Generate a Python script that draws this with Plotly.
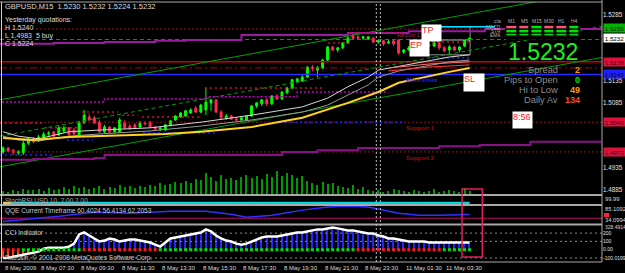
import plotly.graph_objects as go

FONT = "Liberation Sans"

# ---------------- data ----------------
symbol_line = "GBPUSD,M15  1.5230 1.5232 1.5224 1.5232"
yesterday_lines = ["Yesterday quotations:", "H 1.5240", "L 1.4983  5 buy", "C 1.5224"]

bars = list(range(93))
opens = [1.4972, 1.4981, 1.4976, 1.4970, 1.4970, 1.4992, 1.5002, 1.4997, 1.5006, 1.5013,
         1.5018, 1.5011, 1.5020, 1.5027, 1.5022, 1.5011, 1.5038, 1.5052, 1.5050, 1.5040,
         1.5018, 1.5029, 1.5018, 1.5018, 1.5040, 1.5031, 1.5034, 1.5029, 1.5038, 1.5040,
         1.5029, 1.5024, 1.5022, 1.5034, 1.5045, 1.5052, 1.5054, 1.5061, 1.5072, 1.5063,
         1.5068, 1.5084, 1.5091, 1.5063, 1.5050, 1.5054, 1.5047, 1.5045, 1.5045, 1.5054,
         1.5077, 1.5082, 1.5091, 1.5082, 1.5100, 1.5093, 1.5107, 1.5118, 1.5132, 1.5134,
         1.5143, 1.5166, 1.5159, 1.5164, 1.5182, 1.5212, 1.5205, 1.5210, 1.5221, 1.5239,
         1.5235, 1.5232, 1.5230, 1.5232, 1.5223, 1.5226, 1.5221, 1.5226, 1.5228, 1.5200,
         1.5205, 1.5210, 1.5216, 1.5214, 1.5216, 1.5214, 1.5221, 1.5210, 1.5205, 1.5212,
         1.5205, 1.5214, 1.5230]
highs = [1.4985, 1.4983, 1.4979, 1.4976, 1.4997, 1.5004, 1.5006, 1.5011, 1.5018, 1.5020,
         1.5020, 1.5031, 1.5031, 1.5029, 1.5027, 1.5043, 1.5068, 1.5059, 1.5054, 1.5045,
         1.5034, 1.5031, 1.5029, 1.5050, 1.5045, 1.5036, 1.5038, 1.5043, 1.5043, 1.5043,
         1.5031, 1.5029, 1.5036, 1.5045, 1.5056, 1.5063, 1.5068, 1.5072, 1.5077, 1.5082,
         1.5118, 1.5093, 1.5093, 1.5068, 1.5059, 1.5056, 1.5052, 1.5052, 1.5056, 1.5079,
         1.5086, 1.5093, 1.5095, 1.5102, 1.5104, 1.5111, 1.5121, 1.5139, 1.5141, 1.5148,
         1.5168, 1.5171, 1.5168, 1.5185, 1.5214, 1.5214, 1.5212, 1.5223, 1.5237, 1.5244,
         1.5239, 1.5237, 1.5237, 1.5235, 1.5228, 1.5228, 1.5228, 1.5228, 1.5230, 1.5207,
         1.5214, 1.5219, 1.5219, 1.5221, 1.5221, 1.5226, 1.5223, 1.5214, 1.5216, 1.5214,
         1.5214, 1.5230, 1.5232]
lows = [1.4967, 1.4972, 1.4965, 1.4965, 1.4965, 1.4988, 1.4992, 1.4995, 1.5004, 1.5008,
        1.5006, 1.5008, 1.5015, 1.5008, 1.5011, 1.5008, 1.5036, 1.5043, 1.5036, 1.5015,
        1.5015, 1.5015, 1.5015, 1.5015, 1.5024, 1.5022, 1.5024, 1.5027, 1.5034, 1.5027,
        1.5022, 1.5020, 1.5020, 1.5031, 1.5043, 1.5050, 1.5052, 1.5059, 1.5061, 1.5061,
        1.5056, 1.5066, 1.5061, 1.5045, 1.5045, 1.5045, 1.5043, 1.5043, 1.5043, 1.5052,
        1.5072, 1.5077, 1.5077, 1.5079, 1.5091, 1.5091, 1.5104, 1.5116, 1.5130, 1.5132,
        1.5141, 1.5157, 1.5143, 1.5162, 1.5180, 1.5203, 1.5200, 1.5207, 1.5219, 1.5230,
        1.5228, 1.5228, 1.5228, 1.5221, 1.5219, 1.5214, 1.5219, 1.5214, 1.5194, 1.5196,
        1.5203, 1.5207, 1.5210, 1.5212, 1.5212, 1.5212, 1.5205, 1.5200, 1.5194, 1.5203,
        1.5200, 1.5212, 1.5224]
closes = [1.4981, 1.4974, 1.4970, 1.4972, 1.4992, 1.5002, 1.4995, 1.5006, 1.5013, 1.5015,
          1.5008, 1.5027, 1.5027, 1.5011, 1.5013, 1.5038, 1.5056, 1.5045, 1.5038, 1.5018,
          1.5029, 1.5018, 1.5027, 1.5045, 1.5027, 1.5027, 1.5027, 1.5038, 1.5036, 1.5029,
          1.5024, 1.5027, 1.5034, 1.5043, 1.5054, 1.5061, 1.5066, 1.5068, 1.5063, 1.5079,
          1.5086, 1.5091, 1.5063, 1.5050, 1.5054, 1.5047, 1.5045, 1.5050, 1.5054, 1.5077,
          1.5084, 1.5091, 1.5082, 1.5100, 1.5093, 1.5109, 1.5118, 1.5137, 1.5139, 1.5143,
          1.5166, 1.5162, 1.5166, 1.5182, 1.5212, 1.5205, 1.5210, 1.5221, 1.5232, 1.5232,
          1.5232, 1.5235, 1.5235, 1.5223, 1.5226, 1.5219, 1.5223, 1.5219, 1.5198, 1.5205,
          1.5210, 1.5216, 1.5214, 1.5219, 1.5214, 1.5221, 1.5210, 1.5203, 1.5212, 1.5205,
          1.5212, 1.5228, 1.5232]
volumes = [160, 120, 200, 160, 240, 200, 200, 240, 160, 280, 200, 240, 320, 240, 360, 280,
           320, 240, 280, 360, 240, 320, 280, 400, 320, 360, 280, 360, 320, 400, 360, 480,
           400, 440, 520, 480, 560, 480, 640, 600, 880, 720, 560, 800, 640, 680, 600, 720,
           800, 680, 760, 640, 840, 720, 960, 760, 880, 800, 680, 760, 560, 480, 400, 520,
           440, 480, 360, 320, 280, 400, 240, 320, 200, 160, 200, 120, 160, 240, 200, 160,
           120, 200, 160, 120, 160, 240, 120, 160, 200, 160, 120, 280, 160]

time_label_bars = [0, 7, 15, 23, 31, 39, 47, 55, 63, 71, 79, 87]
time_labels = ["8 May 2009", "8 May 07:30", "8 May 09:30", "8 May 11:30", "8 May 13:30",
               "8 May 15:30", "8 May 17:30", "8 May 19:30", "8 May 21:30", "8 May 23:30",
               "11 May 01:30", "11 May 03:30"]
# axis prices that stay visible (the others are covered by price tags)
price_ticks = [1.5285, 1.5135, 1.5085, 1.4935, 1.4885]

# moving averages / envelopes (read at sample bars)
env_bars = [0, 3, 7, 13, 19, 29, 39, 49, 59, 64, 68, 72, 74, 78, 88, 92]
env_upper = [1.5018, 1.5008, 1.5002, 1.5018, 1.5022, 1.5027, 1.5040, 1.5056, 1.5075, 1.5095,
             1.5121, 1.5143, 1.5159, 1.5168, 1.5189, 1.5194]
env_lower = [1.5008, 1.4999, 1.4997, 1.5008, 1.5013, 1.5020, 1.5031, 1.5045, 1.5063, 1.5079,
             1.5102, 1.5125, 1.5143, 1.5157, 1.5178, 1.5182]
yellow_bars = [0, 6, 13, 19, 26, 32, 39, 49, 59, 64, 68, 74, 78, 88, 92]
yellow_ma = [1.5004, 1.4999, 1.5006, 1.5008, 1.5011, 1.5013, 1.5018, 1.5029, 1.5050, 1.5068,
             1.5084, 1.5109, 1.5130, 1.5155, 1.5164]
pink_bars = [76, 84, 92]
pink_upper = [1.5164, 1.5173, 1.5178]
pink_lower = [1.5157, 1.5166, 1.5171]

# trend channel (bar, price) end points
chan_bars = [-0.6, 118.1]
chan_upper = [1.5091, 1.5343]
chan_mid = [1.5008, 1.5259]
chan_lower = [1.4938, 1.5188]

# stepped purple lines
purple_up_bars = [-1, 10, 20, 30, 36, 47, 68, 80, 95, 118]
purple_up = [1.5219, 1.5221, 1.5223, 1.5226, 1.5228, 1.5239, 1.5244, 1.5248, 1.5253, 1.5258]
purple_lo_bars = [-1, 6, 18, 20, 55, 62, 70, 86, 94, 104, 118]
purple_lo = [1.4954, 1.4956, 1.4958, 1.4965, 1.4972, 1.4976, 1.4981, 1.4985, 1.4988, 1.4995, 1.4995]
magenta_bars = [-1, 20, 40, 58, 76]
magenta_lv = [1.5086, 1.5093, 1.5098, 1.5109, 1.5109]

# dotted high / low segments
hi_start = [-0.6, 8.3, 15.6, 23.5, 27.4, 39.8, 64.1, 68.4, 83.6]
hi_end = [8.3, 14.8, 22.7, 26.6, 38.9, 63.5, 68.4, 78.9, 92.1]
hi_price = [1.5038, 1.5027, 1.5063, 1.5056, 1.5052, 1.5118, 1.5221, 1.5244, 1.5223]
lo_start = [-0.6, 12.6, 27.6, 54.6, 84.6]
lo_end = [9.9, 17.8, 41.8, 78.9, 92.1]
lo_price = [1.4965, 1.4999, 1.5015, 1.5040, 1.5187]

# horizontal levels
level_names = ["Resist 1", "bid", "open", "mid", "Pivot Point", "Support 1", "Support 2"]
level_prices = [1.5253, 1.5229, 1.5178, 1.5164, 1.5149, 1.5040, 1.4972]

# price tags at axis
tag_prices = [1.5255, 1.5232, 1.5178, 1.5149, 1.5040, 1.4972]

# sub-window indicators
stoch_bars = [0, 92]
stoch_vals = [2.0, 2.0]
qqe_bars = [0, 5, 11, 18, 25, 33, 40, 45, 48, 53, 59, 64, 68, 72, 76, 78, 82, 86, 92]
qqe_vals = [42.2, 47.5, 55.6, 66.3, 63.6, 69.0, 69.0, 60.9, 52.9, 58.3, 71.7, 79.7, 82.4,
            79.7, 69.0, 63.6, 58.3, 58.3, 60.4]
cci = [-100, -98, -86, -73, -61, -49, -37, -24, 12, 24,
       24, 24, 24, 37, 73, 184, 208, 171, 135, 98,
       110, 135, 122, 98, 110, 122, 122, 110, 98, 86,
       61, 37, 86, 135, 147, 159, 171, 184, 196, 208,
       245, 220, 171, 135, 110, 98, 73, 61, 73, 98,
       122, 147, 159, 159, 159, 171, 184, 196, 208, 208,
       220, 233, 245, 245, 257, 269, 257, 245, 233, 233,
       220, 208, 196, 196, 171, 159, 135, 135, 122, 110,
       98, 98, 98, 98, 86, 86, 86, 86, 86, 86,
       86, 86, 86]
cci_dot = [-1, -1, -1, -1, 1, 1, 1, 1, 1, 1, 1, 1, 1, 1, 1, 1,
           -1, -1, -1, -1, -1, -1, -1, -1, -1, -1, -1, -1, -1, -1, -1,
           1, 1, 1, 1, 1, 1, 1, 1, 1, 1, 1, 1, 1, 1, 1, 1, 1, 1, 1, 1,
           1, 1, 1, 1, 1, 1, 1, 1, 1, 1, 1, 1, 1, 1, 1, 1, 1, 1, 1,
           -1, -1, -1, -1, -1, -1, -1, -1, -1, -1, -1, -1, -1, -1, -1, -1, -1,
           1, 1, 1, 1, 1, 1]

# multi-timeframe panel
timeframes = ["M1", "M5", "M15", "M30", "H1", "H4"]
mtf_rows = ["MACD", "STR", "EMA"]
mtf_signal = [[-1, -1, 1, -1, -1, 1],
              [1, 1, 1, 1, 1, 1],
              [1, 1, 1, 1, 1, 1]]

stats_labels = ["Spread", "Pips to Open", "Hi to Low", "Daily Av"]
stats_values = [2, 0, 49, 134]

# ---------------- layout helpers ----------------
PLOT_H = 262.0
PLOT_W = 602.0


def py(p):
    return (PLOT_H - p) / PLOT_H


def px(p):
    return p / PLOT_W


X0, X1 = -0.6, 118.1
fig = go.Figure()


def hline(price, color, width=1, dash="solid", yaxis="y", x0=X0, x1=X1):
    fig.add_trace(go.Scatter(x=[x0, x1], y=[price, price], mode="lines", yaxis=yaxis,
                             line=dict(color=color, width=width, dash=dash),
                             hoverinfo="skip", showlegend=False))


def segs(starts, ends, prices, color, dash):
    xs, ys = [], []
    for a, b, p in zip(starts, ends, prices):
        xs += [a, b, None]
        ys += [p, p, None]
    fig.add_trace(go.Scatter(x=xs, y=ys, mode="lines", line=dict(color=color, width=1.5, dash=dash),
                             hoverinfo="skip", showlegend=False))


# levels
level_styles = [("#9a1010", 1, "2px,2px"), ("#00a000", 1, "4px,3px"), ("#d00000", 1.5, "solid"),
                ("#b00000", 1, "7px,3px,2px,3px"), ("#2828ff", 1.5, "solid"),
                ("#9a1010", 1, "2px,2px"), ("#9a1010", 1, "2px,2px")]
for p, (c, w, d) in zip(level_prices, level_styles):
    hline(p, c, w, d)

# channel
fig.add_trace(go.Scatter(x=chan_bars, y=chan_upper, mode="lines", line=dict(color="#00a000", width=1),
                         hoverinfo="skip", showlegend=False))
fig.add_trace(go.Scatter(x=chan_bars, y=chan_lower, mode="lines", line=dict(color="#00a000", width=1),
                         hoverinfo="skip", showlegend=False))
fig.add_trace(go.Scatter(x=chan_bars, y=chan_mid, mode="lines",
                         line=dict(color="#00a000", width=1, dash="4px,3px"),
                         hoverinfo="skip", showlegend=False))

# stepped lines
fig.add_trace(go.Scatter(x=purple_up_bars, y=purple_up, mode="lines", line=dict(color="#9a1aa0", width=2, shape="hv"),
                         hoverinfo="skip", showlegend=False))
fig.add_trace(go.Scatter(x=purple_lo_bars, y=purple_lo, mode="lines", line=dict(color="#8a108a", width=2, shape="hv"),
                         hoverinfo="skip", showlegend=False))
fig.add_trace(go.Scatter(x=magenta_bars, y=magenta_lv, mode="lines",
                         line=dict(color="#c000c0", width=1.5, shape="hv", dash="2px,2px"),
                         hoverinfo="skip", showlegend=False))

segs(hi_start, hi_end, hi_price, "#d01030", "2px,3px")
segs(lo_start, lo_end, lo_price, "#2020ff", "2px,3px")

# moving averages
fig.add_trace(go.Scatter(x=env_bars, y=env_upper, mode="lines", line=dict(color="#d8d8d8", width=1),
                         hoverinfo="skip", showlegend=False))
fig.add_trace(go.Scatter(x=env_bars, y=env_lower, mode="lines", line=dict(color="#9a9a9a", width=1),
                         hoverinfo="skip", showlegend=False))
fig.add_trace(go.Scatter(x=pink_bars, y=pink_upper, mode="lines", line=dict(color="#ff7070", width=1),
                         hoverinfo="skip", showlegend=False))
fig.add_trace(go.Scatter(x=pink_bars, y=pink_lower, mode="lines", line=dict(color="#ff4040", width=1),
                         hoverinfo="skip", showlegend=False))
fig.add_trace(go.Scatter(x=yellow_bars, y=yellow_ma, mode="lines", line=dict(color="#ffd21e", width=2),
                         hoverinfo="skip", showlegend=False))
fig.add_trace(go.Scatter(x=[86.2, 97.0], y=[1.5258, 1.5258], mode="lines", line=dict(color="#00e0ff", width=1.5),
                         hoverinfo="skip", showlegend=False))

# candles
fig.add_trace(go.Candlestick(x=bars, open=opens, high=highs, low=lows, close=closes,
                             increasing=dict(line=dict(color="#00ff00", width=1), fillcolor="#00ff00"),
                             decreasing=dict(line=dict(color="#ff2a55", width=1), fillcolor="#ff2a55"),
                             whiskerwidth=0, hoverinfo="skip", showlegend=False))

# volumes
fig.add_trace(go.Bar(x=bars, y=volumes, yaxis="y5", marker=dict(color="#009a00", line=dict(width=0)),
                     width=0.2, hoverinfo="skip", showlegend=False))

# StochRSI
fig.add_trace(go.Scatter(x=stoch_bars, y=stoch_vals, yaxis="y2", mode="lines",
                         line=dict(color="#00d8e0", width=2.5), hoverinfo="skip", showlegend=False))
fig.add_trace(go.Scatter(x=[0, 1.5], y=[2.1, 2.1], yaxis="y2", mode="lines",
                         line=dict(color="#ffd21e", width=2), hoverinfo="skip", showlegend=False))

# QQE
hline(50.5, "#700070", 1.5, "solid", yaxis="y3")
hline(50.0, "#a01020", 1, "2px,2px", yaxis="y3")
fig.add_trace(go.Scatter(x=qqe_bars, y=qqe_vals, yaxis="y3", mode="lines",
                         line=dict(color="#3030ff", width=1.5), hoverinfo="skip", showlegend=False))

# CCI
for lv in [200, 100, -100]:
    hline(lv, "#8a8a8a", 1, "2px,3px", yaxis="y4")
cci_colors = ["#2424ff" if v >= 0 else "#ff3a1a" for v in cci]
fig.add_trace(go.Bar(x=bars, y=cci, yaxis="y4", marker=dict(color=cci_colors, line=dict(width=0)),
                     width=0.3, hoverinfo="skip", showlegend=False))
fig.add_trace(go.Scatter(x=bars, y=cci, yaxis="y4", mode="lines", line=dict(color="#ffffff", width=2.5),
                         hoverinfo="skip", showlegend=False))
fig.add_trace(go.Scatter(x=bars, y=[0] * len(bars), yaxis="y4", mode="markers",
                         marker=dict(symbol="square", size=3,
                                     color=["#00e000" if d > 0 else "#ff1a1a" for d in cci_dot]),
                         hoverinfo="skip", showlegend=False))

# MTF heatmap
fig.add_trace(go.Heatmap(z=mtf_signal, x=timeframes, y=mtf_rows, xaxis="x2", yaxis="y6",
                         zmin=-1, zmax=1, colorscale=[[0, "#ff5a7a"], [1, "#00ee00"]],
                         showscale=False, xgap=3, ygap=1.6, hoverinfo="skip"))

# ---------------- annotations ----------------
ann = []
GRAY = "#dcdcdc"


def text(x, y, s, size=7, color=GRAY, xanchor="left", xref="paper", yref="paper", **kw):
    ann.append(dict(x=x, y=y, text=s, xref=xref, yref=yref, xanchor=xanchor, yanchor="middle",
                    showarrow=False, font=dict(family=FONT, size=size, color=color), **kw))


text(px(3), py(6), symbol_line, size=7.5)
for s, yy in zip(yesterday_lines, [20.5, 28, 35.5, 43]):
    text(px(3), py(yy), s, size=7)

text(px(3), py(200.5), "StochRSI USD 10, 2.00 2.00", size=6.5, color="#a8a8a8")
text(px(3), py(211), "QQE Current Timeframe 60.4024 56.4134 62.2053", size=6.5, color="#c8c8c8")
text(px(3), py(232), "CCI Indicator", size=6.5, color="#c8c8c8")
text(px(3), py(257.5), "Ruessin, \u00a9 2001-2008 MetaQuotes Software Corp.", size=6.5, color="#c8c8c8")

for b, s in zip(time_label_bars, time_labels):
    text(b, py(268), s, size=6, color="#d8d8d8", xref="x")

# sub-window right labels
for yy, s, sz in [(198.5, "99.99", 5.8), (208.5, "85.1092", 5.8), (220, "34.0994", 5.8),
                  (227, "328.4914", 5.0)]:
    text(1.0, py(yy), s, size=sz, color="#d8d8d8", xshift=1)

# pivot labels
for name, bx, p, col in [("Resist 1", 77.3, level_prices[0], "#8a1a3a"),
                         ("Pivot Point", 79, level_prices[4], "#2828d0"),
                         ("Support 1", 79, level_prices[5], "#9a1010"),
                         ("Support 2", 79, level_prices[6], "#9a1010")]:
    ann.append(dict(x=bx, y=p, xref="x", yref="y", xanchor="left", yanchor="top", showarrow=False,
                    text="<b>%s</b>" % name, font=dict(family=FONT, size=6, color=col), yshift=-1))

# price tags on the axis
tag_styles = [("#00b400", "#002800"), ("#ffffff", "#000000"), ("#e0103c", "#4a0010"),
              ("#2020ff", "#000040"), ("#e0103c", "#4a0010"), ("#e0103c", "#4a0010")]
for p, (bg, fc) in zip(tag_prices, tag_styles):
    ann.append(dict(x=1.0, y=p, xref="paper", yref="y", xanchor="left", yanchor="middle", showarrow=False,
                    text="%.4f" % p, bgcolor=bg, borderpad=0, width=21, height=8, xshift=1,
                    font=dict(family=FONT, size=6.2, color=fc)))

# white objects (TP / EP / SL / time)
for label, bx, top, w, h in [("EP", 80.1, 1.5231, 19, 16), ("TP", 82.4, 1.5264, 19, 16),
                             ("SL", 90.7, 1.5152, 20, 17), ("8:56", 100.4, 1.5065, 19, 16)]:
    ann.append(dict(x=bx, y=top, xref="x", yref="y", xanchor="left", yanchor="top", showarrow=False,
                    text=label, bgcolor="#ffffff", borderpad=0, width=w, height=h, align="left",
                    valign="top", font=dict(family=FONT, size=9, color="#ff2020")))

# MTF panel headers
text(px(497), py(21), "c/a", size=5, color="#b0b0b0", xanchor="center")
for tf in timeframes:
    ann.append(dict(x=tf, y=py(21), xref="x2", yref="paper", xanchor="center", yanchor="middle",
                    showarrow=False, text=tf, font=dict(family=FONT, size=5, color="#b0b0b0")))
for r in mtf_rows:
    ann.append(dict(x=px(503), y=r, xref="paper", yref="y6", xanchor="right", yanchor="middle",
                    showarrow=False, text=r, font=dict(family=FONT, size=4.8, color="#b0b0b0")))

# big price and stats
text(px(543), py(51.5), "%.4f" % closes[-1], size=23, color="#1ef01e", xanchor="center")
stat_colors = ["#ff9a00", "#00e000", "#ff9a00", "#ff4a1a"]
for s, v, c, yy in zip(stats_labels, stats_values, stat_colors, [70.3, 80.2, 90.1, 100]):
    text(px(560), py(yy), s, size=9.3, color="#8c8c8c", xanchor="right")
    text(px(582), py(yy), "<b>%d</b>" % v, size=9, color=c, xanchor="right")

# ---------------- shapes ----------------
shapes = []
SEP = "#a8a8a8"
for yy, w in [(2, 1), (195, 2), (205, 2), (224.5, 2), (262, 1)]:
    shapes.append(dict(type="line", xref="paper", yref="paper", x0=0, x1=1, y0=py(yy), y1=py(yy),
                       line=dict(color=SEP, width=w), layer="above"))
shapes.append(dict(type="line", xref="paper", yref="paper", x0=1, x1=1, y0=0, y1=1,
                   line=dict(color=SEP, width=1), layer="above"))
shapes.append(dict(type="line", xref="paper", yref="paper", x0=px(1.5), x1=px(1.5), y0=0, y1=py(2),
                   line=dict(color="#d0d0d0", width=1), layer="above"))
for b in [73.6, 74.4]:
    shapes.append(dict(type="line", xref="x", yref="paper", x0=b, x1=b, y0=0, y1=py(2),
                       line=dict(color="#c0c0c0", width=1, dash="2px,2px"), layer="above"))
# gray object outlines
shapes.append(dict(type="rect", xref="x", yref="y", x0=83.8, x1=92.1, y0=1.5194, y1=1.5228,
                   line=dict(color="#8a8a8a", width=1), layer="below"))
shapes.append(dict(type="rect", xref="x", yref="y", x0=86.2, x1=92.1, y0=1.5228, y1=1.5258,
                   line=dict(color="#8a8a8a", width=1), layer="below"))
# red highlight rectangle
shapes.append(dict(type="rect", xref="x", yref="paper", x0=90.5, x1=94.5, y0=py(257), y1=py(189),
                   line=dict(color="#e0205a", width=1.5), layer="above"))
# small red marker on QQE axis
shapes.append(dict(type="rect", xref="paper", yref="paper", x0=1.003, x1=1.012, y0=py(217), y1=py(213),
                   fillcolor="#ff2040", line=dict(width=0), layer="above"))

tickfont = dict(family=FONT, size=6.3, color="#e0e0e0")
fig.update_layout(
    width=625, height=273,
    margin=dict(l=0, r=23, t=0, b=11, autoexpand=False),
    paper_bgcolor="#000000", plot_bgcolor="#000000",
    showlegend=False, bargap=0, boxgap=0.45,
    xaxis=dict(domain=[0, 1], range=[X0, X1], showticklabels=False, showgrid=False, zeroline=False,
               showline=False, anchor="y4", rangeslider=dict(visible=False), fixedrange=True,
               automargin=False),
    yaxis=dict(domain=[py(195), py(2)], range=[1.48735, 1.53147], side="right", anchor="x",
               tickvals=price_ticks, ticktext=["%.4f" % v for v in price_ticks],
               ticks="", tickfont=tickfont,
               showgrid=False, zeroline=False, showline=False, automargin=False),
    yaxis2=dict(domain=[py(205), py(195)], range=[0, 10], visible=False, anchor="x", automargin=False),
    yaxis3=dict(domain=[py(224.5), py(205)], range=[34.0994, 85.1092], visible=False, anchor="x",
                automargin=False),
    yaxis4=dict(domain=[0, py(224.5)], range=[-149, 304], side="right", anchor="x",
                tickvals=[-100, 0, 100, 200], ticktext=["-100.0199", "0.00", "100", "200"],
                ticks="", tickfont=dict(family=FONT, size=5.0, color="#e0e0e0"),
                showgrid=False, zeroline=False, showline=False, automargin=False),
    yaxis5=dict(overlaying="y", range=[0, 7720], visible=False, automargin=False),
    xaxis2=dict(domain=[0.8393, 0.9639], anchor="y6", visible=False, type="category", automargin=False),
    yaxis6=dict(domain=[0.8483, 0.9113], anchor="x2", visible=False, type="category",
                autorange="reversed", automargin=False),
    annotations=ann,
    shapes=shapes,
)

fig.write_html("out.html")
